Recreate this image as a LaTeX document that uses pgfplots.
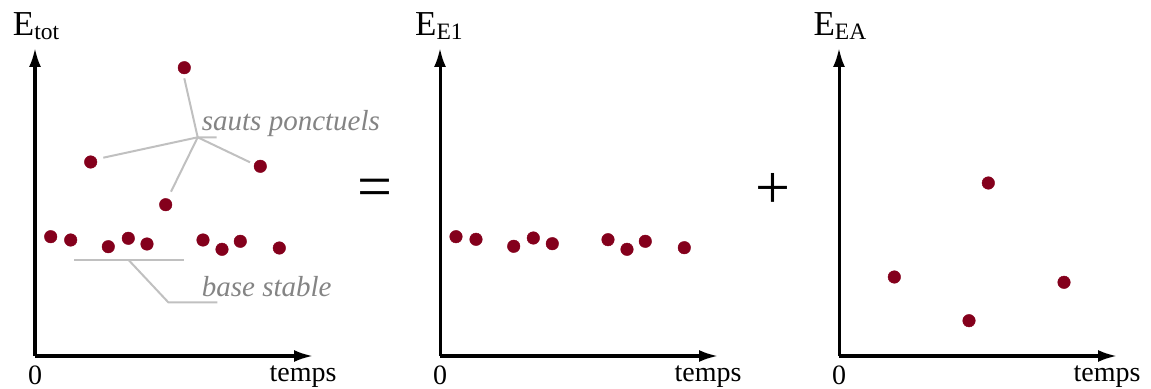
\documentclass[border=0pt]{standalone}
\usepackage{pgfplots}
\pgfplotsset{compat=1.18}
\usepackage{fontspec}
\setmainfont{Liberation Serif}
\usetikzlibrary{arrows.meta}
\definecolor{dotred}{RGB}{132,0,28}
\definecolor{annotgray}{RGB}{132,132,132}
\definecolor{leadgray}{RGB}{192,192,192}
\pgfplotsset{
  panel/.style={
    x=1bp, y=1bp,
    xmin=0, xmax=278, ymin=0, ymax=308,
    axis lines=left,
    axis line style={line width=3bp, -{Latex[length=19bp,width=12bp]}},
    xtick={0}, xticklabel={\fontsize{28bp}{32bp}\selectfont 0}, ytick=\empty,
    major tick length=0pt,
    xticklabel style={anchor=base, inner sep=0pt, yshift=-28bp},
    xlabel={temps},
    every axis x label/.style={at={(rel axis cs:0.964,-0.0834)}, anchor=base, inner sep=0pt, font=\fontsize{28bp}{32bp}\selectfont},
    clip=false,
  },
  dots/.style={only marks, mark=*, mark size=6.3bp, color=dotred, mark options={draw=dotred, fill=dotred}},
}
\newcommand{\Elabel}[1]{{\fontsize{35bp}{40bp}\selectfont E}{\fontsize{23.5bp}{28bp}\selectfont\raisebox{-3.3bp}{#1}}}
\begin{document}
\begin{tikzpicture}
\path[use as bounding box] (0,0) rectangle (1151bp,389bp);

% Panel 1: E_tot
\begin{axis}[panel, at={(35bp,33bp)}, anchor=south west,
  ylabel={\Elabel{tot}},
  every axis y label/.style={at={(rel axis cs:-0.0802,1.039)}, anchor=base west, inner sep=0pt}]
  \addplot[dots] coordinates {
    (15.7,119.3) (35.7,116) (55.7,194) (73.3,109.3) (93.3,117.7) (112,112)
    (130.7,151.3) (149.3,288.3) (168,116) (187,106.7) (205.3,114.7) (225.3,189.7) (244.3,108)
  };
  % leader lines
  \draw[leadgray, line width=2bp]
    (axis cs:68.3,198.3) -- (axis cs:162.7,218.7) -- (axis cs:181.7,218.7);
  \draw[leadgray, line width=2bp] (axis cs:149.3,277.7) -- (axis cs:162.7,218.7);
  \draw[leadgray, line width=2bp] (axis cs:136,164.3) -- (axis cs:162.7,218.7);
  \draw[leadgray, line width=2bp] (axis cs:215,193.7) -- (axis cs:162.7,218.7);
  \draw[leadgray, line width=2bp] (axis cs:39,96.3) -- (axis cs:149.3,96.3);
  \draw[leadgray, line width=2bp] (axis cs:93.3,96.3) -- (axis cs:133.3,53.7) -- (axis cs:182.3,53.7);
  \node[anchor=base west, inner sep=0pt, text=annotgray, font=\itshape\fontsize{29bp}{34bp}\selectfont]
    at (axis cs:166.7,225.3) {sauts ponctuels};
  \node[anchor=base west, inner sep=0pt, text=annotgray, font=\itshape\fontsize{29bp}{34bp}\selectfont]
    at (axis cs:166.7,60) {base stable};
\end{axis}

% Panel 2: E_E1
\begin{axis}[panel, at={(440bp,33bp)}, anchor=south west,
  ylabel={\Elabel{E1}},
  every axis y label/.style={at={(rel axis cs:-0.0899,1.039)}, anchor=base west, inner sep=0pt}]
  \addplot[dots] coordinates {
    (16,119.3) (36,116.7) (73.7,109.7) (93.3,118) (112.3,112.3)
    (168,116.3) (187,106.7) (205.3,114.7) (244.3,108.3)
  };
\end{axis}

% Panel 3: E_EA
\begin{axis}[panel, at={(839bp,33bp)}, anchor=south west,
  ylabel={\Elabel{EA}},
  every axis y label/.style={at={(rel axis cs:-0.0924,1.039)}, anchor=base west, inner sep=0pt}]
  \addplot[dots] coordinates {
    (55.3,79) (130,35.3) (149.3,173) (225,73.7)
  };
\end{axis}

\node[anchor=base, inner sep=0pt, font=\fontsize{62bp}{70bp}\selectfont] at (374.5bp,181.5bp) {=};
\node[anchor=base, inner sep=0pt, font=\fontsize{62bp}{70bp}\selectfont] at (772.7bp,180.5bp) {+};
\end{tikzpicture}
\end{document}
